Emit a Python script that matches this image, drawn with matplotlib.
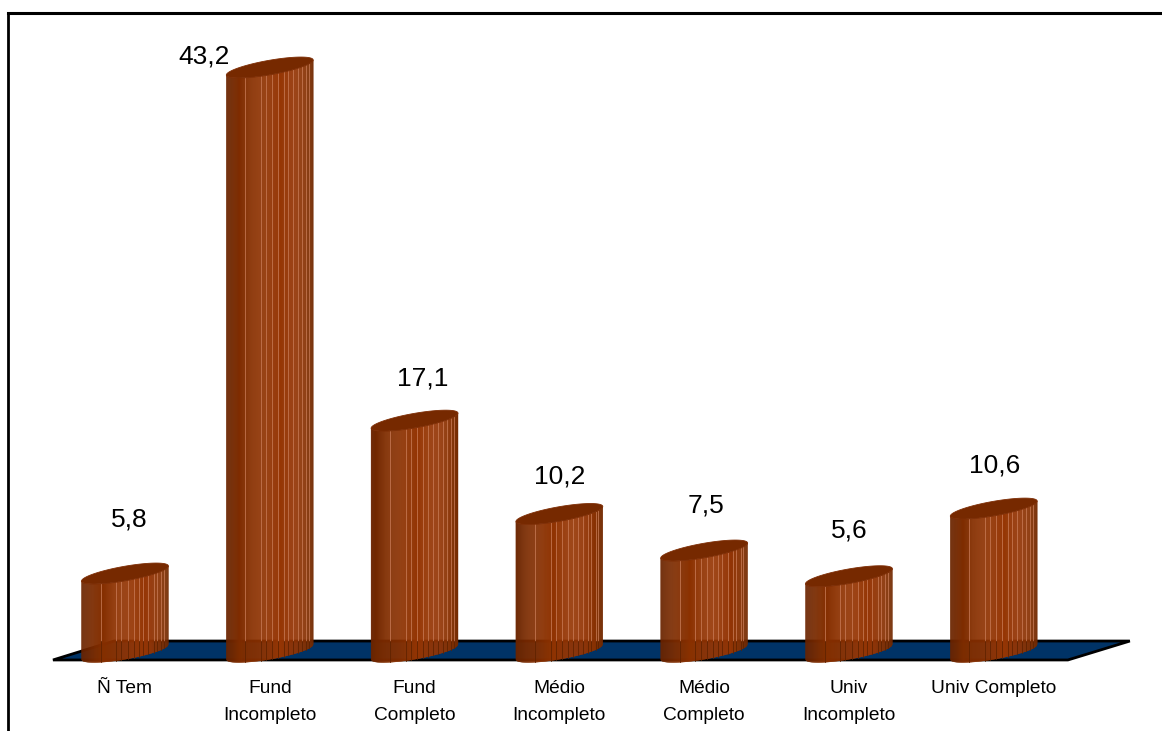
import numpy as np
import matplotlib.pyplot as plt
from matplotlib.patches import Polygon
from matplotlib.lines import Line2D
from matplotlib.colors import LinearSegmentedColormap

plt.rcParams['font.family'] = ['Liberation Sans', 'DejaVu Sans']

categories = ['Ñ Tem', 'Fund\nIncompleto', 'Fund\nCompleto', 'Médio\nIncompleto',
              'Médio\nCompleto', 'Univ\nIncompleto', 'Univ Completo']
values = [5.8, 43.2, 17.1, 10.2, 7.5, 5.6, 10.6]

# label nudges in pixels (dx, dy above top of cylinder)
label_offsets = [(4, 47), (-66, 4), (8, 35), (0, 30), (2, 38), (0, 39), (1, 36)]

# cylinder geometry (data units)
RX = 0.30        # half width
TILT = 0.554     # rise of the ellipse from left to right
DEPTH = 0.54     # half thickness of the ellipse

side_cmap = LinearSegmentedColormap.from_list('side', [
    (0.0, '#6a2400'), (0.15, '#7e2c00'), (0.35, '#8c3100'), (0.6, '#973604'),
    (0.8, '#943505'), (0.92, '#873102'), (1.0, '#722900')])
facet_u = [0.22, 0.40, 0.46, 0.53, 0.60, 0.66, 0.71, 0.77, 0.83, 0.87, 0.92, 0.95]

fig = plt.figure(figsize=(11.62, 7.31), dpi=100)
ax = fig.add_axes([0, 0, 1, 1])
ax.set_xlim(-0.863, 7.162)
ax.set_ylim(-5.84, 48.19)
ax.axis('off')

# floor
floor = Polygon([(-0.497, -0.59), (6.512, -0.59), (6.94, 0.81), (-0.076, 0.81)],
                closed=True, facecolor='#003366', edgecolor='black', lw=2, zorder=1)
ax.add_patch(floor)


def front_off(u):
    c = 2 * np.asarray(u) - 1
    return TILT * c - DEPTH * np.sqrt(np.clip(1 - c ** 2, 0, 1))


def cylinder(cx, h):
    # side strips with a shading gradient
    us = np.linspace(0, 1, 90)
    for u1, u2 in zip(us[:-1], us[1:]):
        x1, x2 = cx + RX * (2 * u1 - 1), cx + RX * (2 * u2 - 1)
        o1, o2 = front_off(u1), front_off(u2)
        col = side_cmap((u1 + u2) / 2)
        ax.add_patch(Polygon([(x1, o1), (x2, o2), (x2, h + o2), (x1, h + o1)],
                             closed=True, facecolor=col, edgecolor=col, lw=0.3, zorder=2))
    # facet edges
    for u in facet_u:
        x = cx + RX * (2 * u - 1)
        o = front_off(u)
        ax.plot([x, x], [0.81, h + o], color='#c97c58', lw=0.7, alpha=0.75, zorder=3)
        ax.plot([x, x], [o, 0.81], color='#5e2200', lw=0.7, alpha=0.8, zorder=3)
    # top
    t = np.linspace(0, 2 * np.pi, 120)
    ax.add_patch(Polygon(np.column_stack([cx + RX * np.cos(t),
                                          h + TILT * np.cos(t) - DEPTH * np.sin(t)]),
                         closed=True, facecolor='#762900', edgecolor='#7e2e06',
                         lw=0.6, zorder=4))


for i, v in enumerate(values):
    cylinder(i, v)
    dx, dy = label_offsets[i]
    ax.annotate(f'{v:.1f}'.replace('.', ','), (i, v), xytext=(dx, dy),
                textcoords='offset pixels', ha='center', va='baseline',
                fontsize=19, color='black', zorder=5)
    ax.text(i, -2.1, categories[i], ha='center', va='top', fontsize=13.8,
            linespacing=1.75, multialignment='center', zorder=5)

# frame
fig.add_artist(Line2D([8 / 1162, 1], [1 - 13 / 731, 1 - 13 / 731],
                      transform=fig.transFigure, color='black', lw=2.2))
fig.add_artist(Line2D([8 / 1162, 8 / 1162], [0, 1 - 13 / 731],
                      transform=fig.transFigure, color='black', lw=2.0))

fig.savefig('out.png', dpi=100)
